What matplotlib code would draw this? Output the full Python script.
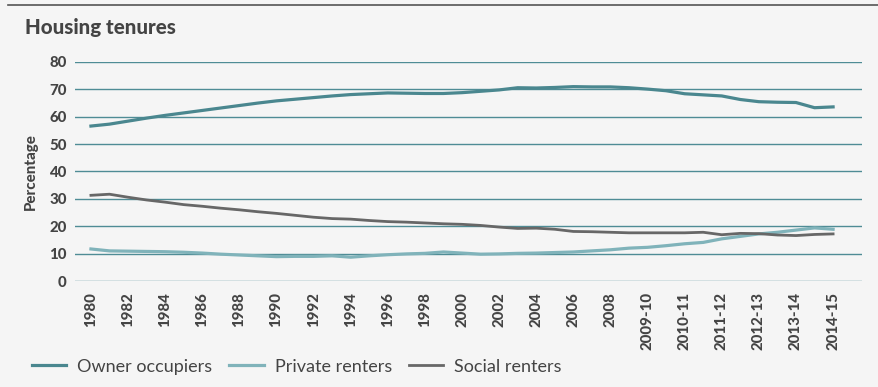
import matplotlib
matplotlib.use("Agg")
import matplotlib.pyplot as plt
import numpy as np

# periods: 1980-2008 yearly, then survey years (unlabelled half steps in between)
periods = [str(y) for y in range(1980, 2009)] + [
    "", "2009-10", "", "2010-11", "", "2011-12", "", "2012-13", "", "2013-14", "", "2014-15"]
tick_labels = [str(y) for y in range(1980, 2009, 2)] + [
    "2009-10", "2010-11", "2011-12", "2012-13", "2013-14", "2014-15"]

owner = [56.6, 57.3, 58.4, 59.5, 60.5, 61.4, 62.3, 63.2, 64.1, 65.0,
         65.8, 66.4, 67.0, 67.6, 68.1, 68.4, 68.7, 68.6, 68.5, 68.5,
         68.8, 69.3, 69.8, 70.6, 70.5, 70.7, 71.0, 70.9, 70.9, 70.6,
         70.1, 69.5, 68.4, 68.0, 67.6, 66.3, 65.5, 65.3, 65.2, 63.3, 63.6]
private = [11.7, 11.0, 10.9, 10.8, 10.7, 10.5, 10.2, 9.8, 9.5, 9.2,
           8.9, 9.0, 9.0, 9.2, 8.7, 9.2, 9.6, 9.9, 10.1, 10.6,
           10.2, 9.8, 9.9, 10.1, 10.2, 10.4, 10.6, 11.0, 11.4, 12.0,
           12.3, 12.9, 13.6, 14.1, 15.4, 16.3, 17.2, 17.8, 18.6, 19.4, 18.9]
social = [31.3, 31.7, 30.6, 29.6, 28.8, 27.9, 27.3, 26.6, 26.0, 25.3,
          24.7, 24.0, 23.3, 22.8, 22.6, 22.1, 21.7, 21.5, 21.2, 20.9,
          20.7, 20.3, 19.7, 19.2, 19.3, 18.9, 18.1, 18.0, 17.8, 17.6,
          17.6, 17.6, 17.6, 17.8, 16.9, 17.4, 17.3, 16.8, 16.6, 17.0, 17.2]

bg = "#f5f5f5"
grid_col = "#4f8c95"
text_col = "#444444"

plt.rcParams['font.family'] = ['Lato', 'DejaVu Sans']

fig = plt.figure(figsize=(8.79, 3.87), dpi=100, facecolor=bg)
ax = fig.add_axes([0.0853, 0.2739, 0.8954, 0.5659], facecolor=bg)

x = np.arange(len(periods))
ax.plot(x, owner, color="#4a878f", lw=2.3, label="Owner occupiers", clip_on=False, zorder=3)
ax.plot(x, private, color="#80b3ba", lw=2.3, label="Private renters", clip_on=False, zorder=3)
ax.plot(x, social, color="#676767", lw=2.0, label="Social renters", clip_on=False, zorder=3)

ax.set_ylim(0, 80)
ax.set_xlim(-0.86, 41.56)
ax.set_yticks(range(0, 81, 10))
ax.yaxis.grid(True, color=grid_col, lw=1.0)
ax.set_axisbelow(True)
for s in ax.spines.values():
    s.set_visible(False)

tick_pos = [periods.index(t) for t in tick_labels]
ax.set_xticks(tick_pos)
ax.set_xticklabels(tick_labels, rotation=90, va="top")
ax.tick_params(axis="both", length=0, labelcolor=text_col, labelsize=10.8)
ax.tick_params(axis="x", pad=8)
ax.tick_params(axis="y", pad=6)
for lab in ax.get_xticklabels() + ax.get_yticklabels():
    lab.set_fontweight("black")

ax.set_ylabel("Percentage", fontsize=10.8, fontweight="black", color=text_col, labelpad=8)

fig.text(0.028, 0.928, "Housing tenures", fontsize=14.8, fontweight="black", color=text_col, va="center")
fig.add_artist(plt.Line2D([0.009, 1.0], [0.987, 0.987], color="#555555", lw=1.2))

leg = fig.legend(loc="lower left", bbox_to_anchor=(0.018, -0.01), ncol=3, frameon=False,
                 fontsize=13, handlelength=1.9, handletextpad=0.6, columnspacing=0.95)
for t in leg.get_texts():
    t.set_color(text_col)

fig.savefig("out.png", dpi=100, facecolor=bg)
